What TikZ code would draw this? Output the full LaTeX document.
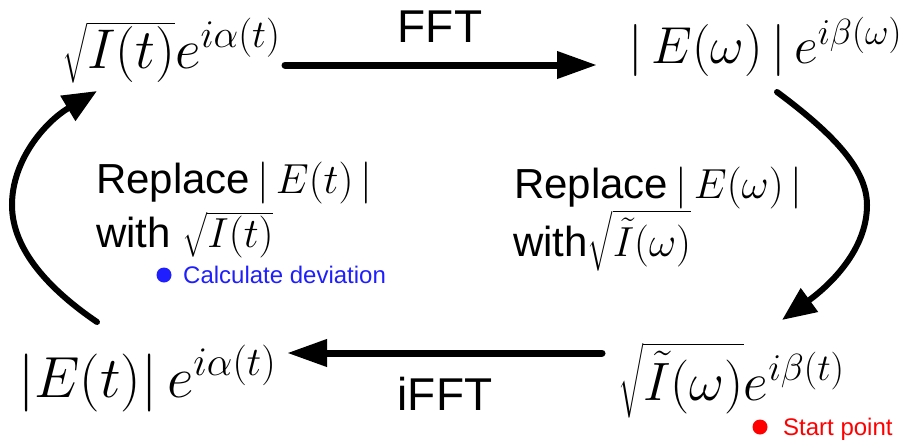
\RequirePackage{fix-cm}
\documentclass[tikz,border=0pt]{standalone}
\usepackage{exscale}
\usepackage[no-math]{fontspec}
\setmainfont{Liberation Sans}
\usetikzlibrary{arrows.meta}
\newcommand\myfs[1]{\fontsize{#1}{#1}\selectfont}
\definecolor{devblue}{RGB}{30,30,255}
\definecolor{startred}{RGB}{255,0,0}
\tikzset{
  term/.style={inner sep=0pt, anchor=base west},
  lbl/.style={inner sep=0pt, anchor=base west},
  oplbl/.style={inner sep=0pt, anchor=base, font=\myfs{46}},
  flow/.style={line width=7pt, line cap=round, -{Triangle[length=40pt,width=26pt]}},
  loopflow/.style={line width=6pt, line cap=round, -{Triangle[length=34pt,width=28pt]}},
  note/.style={inner sep=0pt, anchor=base west, font=\myfs{24}},
  dot/.style={circle, inner sep=0pt, minimum size=15pt},
}
\begin{document}
\begin{tikzpicture}[x=1pt,y=-1pt]
\useasboundingbox (0,0) rectangle (911,445);

% terms
\node[term] (tl) at (62,68) {\myfs{56}$\sqrt{I(t)}e^{i\alpha(t)}$};
\node[term] (tr) at (628,63) {\myfs{52}$|\,E(\omega)\,|\,e^{i\beta(\omega)}$};
\node[term] (bl) at (18,397) {\myfs{58}$|E(t)|\,e^{i\alpha(t)}$};
\node[term] (br) at (618,400) {\myfs{54}$\sqrt{\tilde I(\omega)}e^{i\beta(t)}$};

% operation labels
\node[oplbl] (fft) at (440,42) {FFT};
\node[oplbl] (ifft) at (445,410) {iFFT};

% replace labels
\node[lbl, font=\myfs{42}] (rl1) at (96,193) {Replace$\,|\,E(t)\,|$};
\node[lbl, font=\myfs{42}] (rl2) at (96,247) {with $\sqrt{I(t)}$};
\node[lbl, font=\myfs{42}] (rr1) at (514,198) {Replace$\,|\,E(\omega)\,|$};
\node[lbl, font=\myfs{42}] (rr2) at (513,256) {with$\sqrt{\tilde I(\omega)}$};

% notes
\node[dot, fill=devblue] (bdot) at (164,275) {};
\node[note, text=devblue] (calc) at (183,283) {Calculate deviation};
\node[dot, fill=startred] (rdot) at (760,427) {};
\node[note, text=startred] (start) at (783,435) {Start point};

% connector end points
\coordinate (a1s) at (285,65);
\coordinate (a1e) at (597,65);
\coordinate (a2s) at (777,92);
\coordinate (a2m) at (867,205);
\coordinate (a2e) at (782,320);
\coordinate (a3s) at (602,353);
\coordinate (a3e) at (287,353);
\coordinate (a4s) at (97,322);
\coordinate (a4m) at (12,205);
\coordinate (a4e) at (97,91);

\draw[flow] (a1s) -- (a1e);
\draw[flow] (a3s) -- (a3e);
\draw[loopflow] (a2s) .. controls (835,135) and (867,170) .. (a2m)
  .. controls (867,250) and (830,285) .. (a2e);
\draw[loopflow] (a4s) .. controls (50,290) and (12,250) .. (a4m)
  .. controls (12,160) and (45,122) .. (a4e);
\end{tikzpicture}
\end{document}
